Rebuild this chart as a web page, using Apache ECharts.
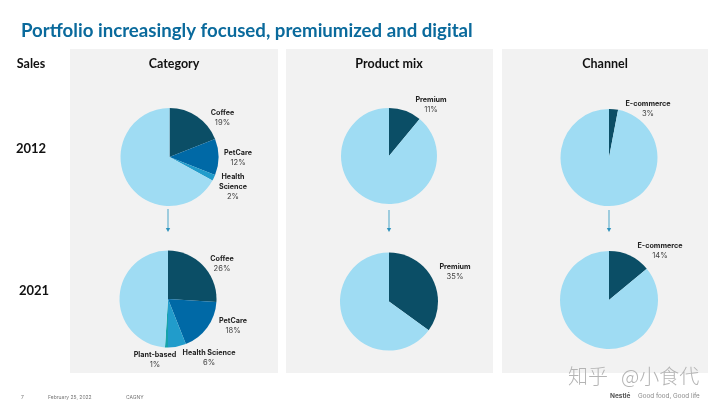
<!DOCTYPE html>
<html>
<head>
<meta charset="utf-8">
<style>
  html, body { margin: 0; padding: 0; background: #fff; }
  #chart { width: 720px; height: 405px; }
</style>
<script src="https://cdn.jsdelivr.net/npm/echarts@6/dist/echarts.min.js"></script>
</head>
<body>
<div id="chart"></div>
<script>
// ---------- data ----------
const categoryNames2012 = ['Coffee', 'PetCare', 'Health\nScience', 'Other']
const categoryShares2012 = [19, 12, 2, 67]
const categoryNames2021 = ['Coffee', 'PetCare', 'Health Science', 'Plant-based', 'Other']
const categoryShares2021 = [26, 18, 6, 1, 49]
const productNames = ['Premium', 'Other']
const productShares2012 = [11, 89]
const productShares2021 = [35, 65]
const channelNames = ['E-commerce', 'Other']
const channelShares2012 = [3, 97]
const channelShares2021 = [14, 86]

// ---------- colours ----------
const DARK = '#0b4e66'
const BLUE = '#0069a6'
const MID = '#219ccb'
const TEAL = '#16a3ab'
const LIGHT = '#9fdcf3'
const PANEL = '#f2f2f2'
const HEAD_FONT = 'Lato, sans-serif'
const LABEL_FONT = 'Inter, sans-serif'

const chart = echarts.init(document.getElementById('chart'), null, { renderer: 'canvas' })

function pie(center, radius, names, values, colors) {
  return {
    type: 'pie', center, radius, startAngle: 90, silent: true,
    label: { show: false }, labelLine: { show: false },
    data: values.map((value, i) => ({ name: names[i], value, itemStyle: { color: colors[i], borderWidth: 0 } })),
  }
}

function headText(text, x, y, size, color, align) {
  return {
    type: 'text', x, y, z: 10, silent: true,
    style: { text, fill: color || '#111', font: `700 ${size}px ${HEAD_FONT}`, align: align || 'center', verticalAlign: 'middle' },
  }
}

// slice label: name in bold over its percentage
function sliceLabel(names, values, i, x, y) {
  return {
    type: 'text', x, y, z: 10, silent: true,
    style: {
      text: `{n|${names[i]}}\n{p|${values[i]}%}`,
      align: 'center', verticalAlign: 'middle',
      rich: {
        n: { font: `700 7.2px ${LABEL_FONT}`, fill: '#222', lineHeight: 10, align: 'center' },
        p: { font: `400 7.6px ${LABEL_FONT}`, fill: '#444', lineHeight: 10, align: 'center' },
      },
    },
  }
}

function arrow(x, y1, y2) {
  return [
    { type: 'line', z: 5, silent: true, shape: { x1: x, y1, x2: x, y2: y2 - 3 }, style: { stroke: '#4aa6c9', lineWidth: 1 } },
    { type: 'polygon', z: 5, silent: true, shape: { points: [[x - 2.2, y2 - 4], [x + 2.2, y2 - 4], [x, y2]] }, style: { fill: '#2f93bd' } },
  ]
}

function smallText(text, x, y, font, fill) {
  return { type: 'text', x, y, z: 10, silent: true, style: { text, font, fill, align: 'left', verticalAlign: 'middle' } }
}

const panels = [[70, 208], [286, 207], [502, 206]].map(([x, width]) => ({
  type: 'rect', z: -10, silent: true, shape: { x, y: 49, width, height: 324 }, style: { fill: PANEL },
}))

chart.setOption({
  animation: false,
  backgroundColor: '#fff',
  series: [
    pie([169.5, 157], 49, categoryNames2012, categoryShares2012, [DARK, BLUE, MID, LIGHT]),
    pie([168, 299], 48.5, categoryNames2021, categoryShares2021, [DARK, BLUE, MID, TEAL, LIGHT]),
    pie([389, 156], 48, productNames, productShares2012, [DARK, LIGHT]),
    pie([389, 301.5], 49, productNames, productShares2021, [DARK, LIGHT]),
    pie([609, 157.5], 48.5, channelNames, channelShares2012, [DARK, LIGHT]),
    pie([609, 300], 49, channelNames, channelShares2021, [DARK, LIGHT]),
  ],
  graphic: { elements: [
    ...panels,
    headText('Portfolio increasingly focused, premiumized and digital', 21, 31, 18.65, '#0a6a9c', 'left'),
    headText('Sales', 31, 64, 12.5),
    headText('Category', 174, 64, 12.5),
    headText('Product mix', 389, 64, 12.5),
    headText('Channel', 605, 64, 12.5),
    headText('2012', 31, 149, 13),
    headText('2021', 34, 291, 13),

    sliceLabel(categoryNames2012, categoryShares2012, 0, 222.5, 118),
    sliceLabel(categoryNames2012, categoryShares2012, 1, 238, 157.5),
    sliceLabel(categoryNames2012, categoryShares2012, 2, 233, 187),
    sliceLabel(categoryNames2021, categoryShares2021, 0, 222, 263.5),
    sliceLabel(categoryNames2021, categoryShares2021, 1, 233, 325.5),
    sliceLabel(categoryNames2021, categoryShares2021, 2, 209, 358),
    sliceLabel(categoryNames2021, categoryShares2021, 3, 155, 360),
    sliceLabel(productNames, productShares2012, 0, 431, 105),
    sliceLabel(productNames, productShares2021, 0, 455, 272),
    sliceLabel(channelNames, channelShares2012, 0, 648, 108.5),
    sliceLabel(channelNames, channelShares2021, 0, 660, 251),

    ...arrow(168, 209, 232),
    ...arrow(389, 210, 232),
    ...arrow(609, 210, 232),

    // footer
    smallText('7', 21, 397, `400 5px ${LABEL_FONT}`, '#777'),
    smallText('February 25, 2022', 48, 397, `400 5px ${LABEL_FONT}`, '#777'),
    smallText('CAGNY', 126, 397, `400 5px ${LABEL_FONT}`, '#777'),
    smallText('Nestlé', 610, 396, `700 6.5px ${LABEL_FONT}`, '#555'),
    smallText('Good food, Good life', 638, 396, `400 6.3px ${LABEL_FONT}`, '#888'),

    // watermark
    smallText('知乎', 568, 376, '300 20px "Noto Sans CJK SC"', '#b4b4b4'),
    smallText('@小食代', 621, 376, '300 20px "Noto Sans CJK SC"', '#b4b4b4'),
  ] },
})
</script>
</body>
</html>
